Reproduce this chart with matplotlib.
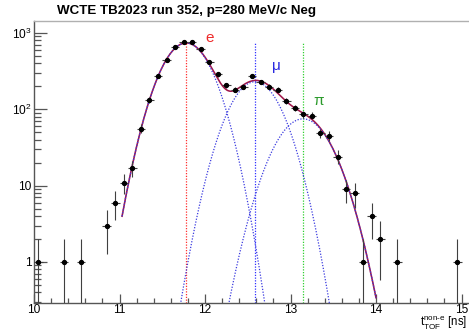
import numpy as np
import matplotlib
matplotlib.use("Agg")
import matplotlib.pyplot as plt
from matplotlib.ticker import FixedLocator, MultipleLocator, LogLocator, NullFormatter

plt.rcParams['font.family'] = ['Liberation Sans', 'DejaVu Sans']
plt.rcParams['mathtext.fontset'] = 'custom'
plt.rcParams['mathtext.rm'] = 'Liberation Sans'
plt.rcParams['mathtext.it'] = 'Liberation Sans'

# ---- data ----
bin_centers = [10.05, 10.35, 10.55, 10.85, 10.95, 11.05, 11.15, 11.25, 11.35, 11.45,
               11.55, 11.65, 11.75, 11.85, 11.95, 12.05, 12.15, 12.25, 12.35, 12.45,
               12.55, 12.65, 12.75, 12.85, 12.95, 13.05, 13.15, 13.25, 13.35, 13.45,
               13.55, 13.65, 13.75, 13.85, 13.95, 14.05, 14.25, 14.95]
counts = [1, 1, 1, 3, 6, 11, 17, 56, 132, 270,
          437, 660, 760, 755, 617, 420, 286, 207, 180, 198,
          270, 229, 198, 180, 129, 105, 86, 83, 49, 45,
          24, 9, 8, 1, 4, 2, 1, 1]
bin_half_width = 0.05

# fitted gaussian components (amplitude, mean, sigma)
comp_e = (740.0, 11.78, 0.232)
comp_mu = (230.0, 12.585, 0.238)
comp_pi = (75.0, 13.146, 0.26)
fit_range = (11.03, 14.0)

peak_labels = ['e', 'μ', 'π']
peak_means = [comp_e[1], comp_mu[1], comp_pi[1]]
peak_colors = ['#ee2a2a', '#2a2ae0', '#2a9a2a']
vline_colors = ['#ff3030', '#3030ff', '#30d030']
label_pos = [(12.05, 860), (12.83, 370), (13.33, 128)]
vline_top = 760

title = 'WCTE TB2023 run 352, p=280 MeV/c Neg'

# ---- figure ----
W, H = 469, 332
fig = plt.figure(figsize=(W / 100, H / 100), dpi=100)
left, right, top, bottom = 34, 469, 20.7, 303
ax = fig.add_axes([left / W, 1 - bottom / H, (right - left) / W, (bottom - top) / H])

x0, x15 = 34, 461.5
ppn = (x15 - x0) / 5.0
ax.set_xlim(10, 10 + (right - x0) / ppn)
dec = (262 - 33) / 3.0
ax.set_yscale('log')
ax.set_ylim(10 ** (-(bottom - 262) / dec), 10 ** (3 + (33 - top) / dec))


def gauss(x, p):
    a, m, s = p
    return a * np.exp(-(x - m) ** 2 / (2 * s * s))


xx = np.linspace(fit_range[0], fit_range[1], 600)
total = gauss(xx, comp_e) + gauss(xx, comp_mu) + gauss(xx, comp_pi)
ax.plot(xx, total, color='#a0184a', lw=1.15, zorder=3)
for p in (comp_e, comp_mu, comp_pi):
    ax.plot(xx, gauss(xx, p), color='#3a3ae0', lw=0.9, ls=(0, (1, 1.3)), zorder=4)

ymin = ax.get_ylim()[0]
for m, c in zip(peak_means, vline_colors):
    ax.plot([m, m], [ymin, vline_top], color=c, lw=0.9, ls=(0, (1, 1.2)), zorder=2)

for lab, (lx, ly), c in zip(peak_labels, label_pos, peak_colors):
    ax.text(lx, ly, lab, color=c, fontsize=11, ha='center', va='center', zorder=6)

xc = np.array(bin_centers)
n = np.array(counts, dtype=float)
err = np.sqrt(n)
err_lo = np.minimum(err, n * 0.9999)
ax.errorbar(xc, n, yerr=[err_lo, err], xerr=bin_half_width, fmt='o', ms=2.8,
            color='black', ecolor='#404040', elinewidth=0.8, capsize=0, zorder=5)

# axes styling
ax.spines['right'].set_visible(False)
ax.spines['top'].set_color('#b0b0b0')
ax.spines['left'].set_color('#555555')
ax.spines['bottom'].set_color('#555555')
for s in ['top', 'left', 'bottom']:
    ax.spines[s].set_linewidth(1.0)

ax.xaxis.set_major_locator(FixedLocator([10, 11, 12, 13, 14, 15]))
ax.xaxis.set_minor_locator(MultipleLocator(0.2))
ax.set_xticklabels(['10', '11', '12', '13', '14', '15'])
ax.yaxis.set_major_locator(FixedLocator([1, 10, 100, 1000]))
ax.set_yticklabels(['1', '10', r'$\mathregular{10^{2}}$', r'$\mathregular{10^{3}}$'])
ax.yaxis.set_minor_locator(LogLocator(base=10, subs=np.arange(2, 10), numticks=20))
ax.yaxis.set_minor_formatter(NullFormatter())

ax.tick_params(axis='both', which='both', direction='in', colors='#555555', labelcolor='black',
               labelsize=8.6)
ax.tick_params(axis='x', which='major', length=6.5, width=0.9, pad=1)
ax.tick_params(axis='x', which='minor', length=3.5, width=0.9)
ax.tick_params(axis='y', which='major', length=9, width=0.9, pad=2)
ax.tick_params(axis='y', which='minor', length=5, width=0.9)
ax.tick_params(top=False, right=False, which='both')

fig.text(57 / W, 1 - 14 / H, title, fontsize=9.6, fontweight='bold', ha='left', va='baseline')
fig.text(467 / W, 5 / H, r'$\mathregular{t_{TOF}^{non\text{-}e}}$ [ns]', fontsize=8.3,
         ha='right', va='baseline')

fig.savefig('out.png', dpi=100)
